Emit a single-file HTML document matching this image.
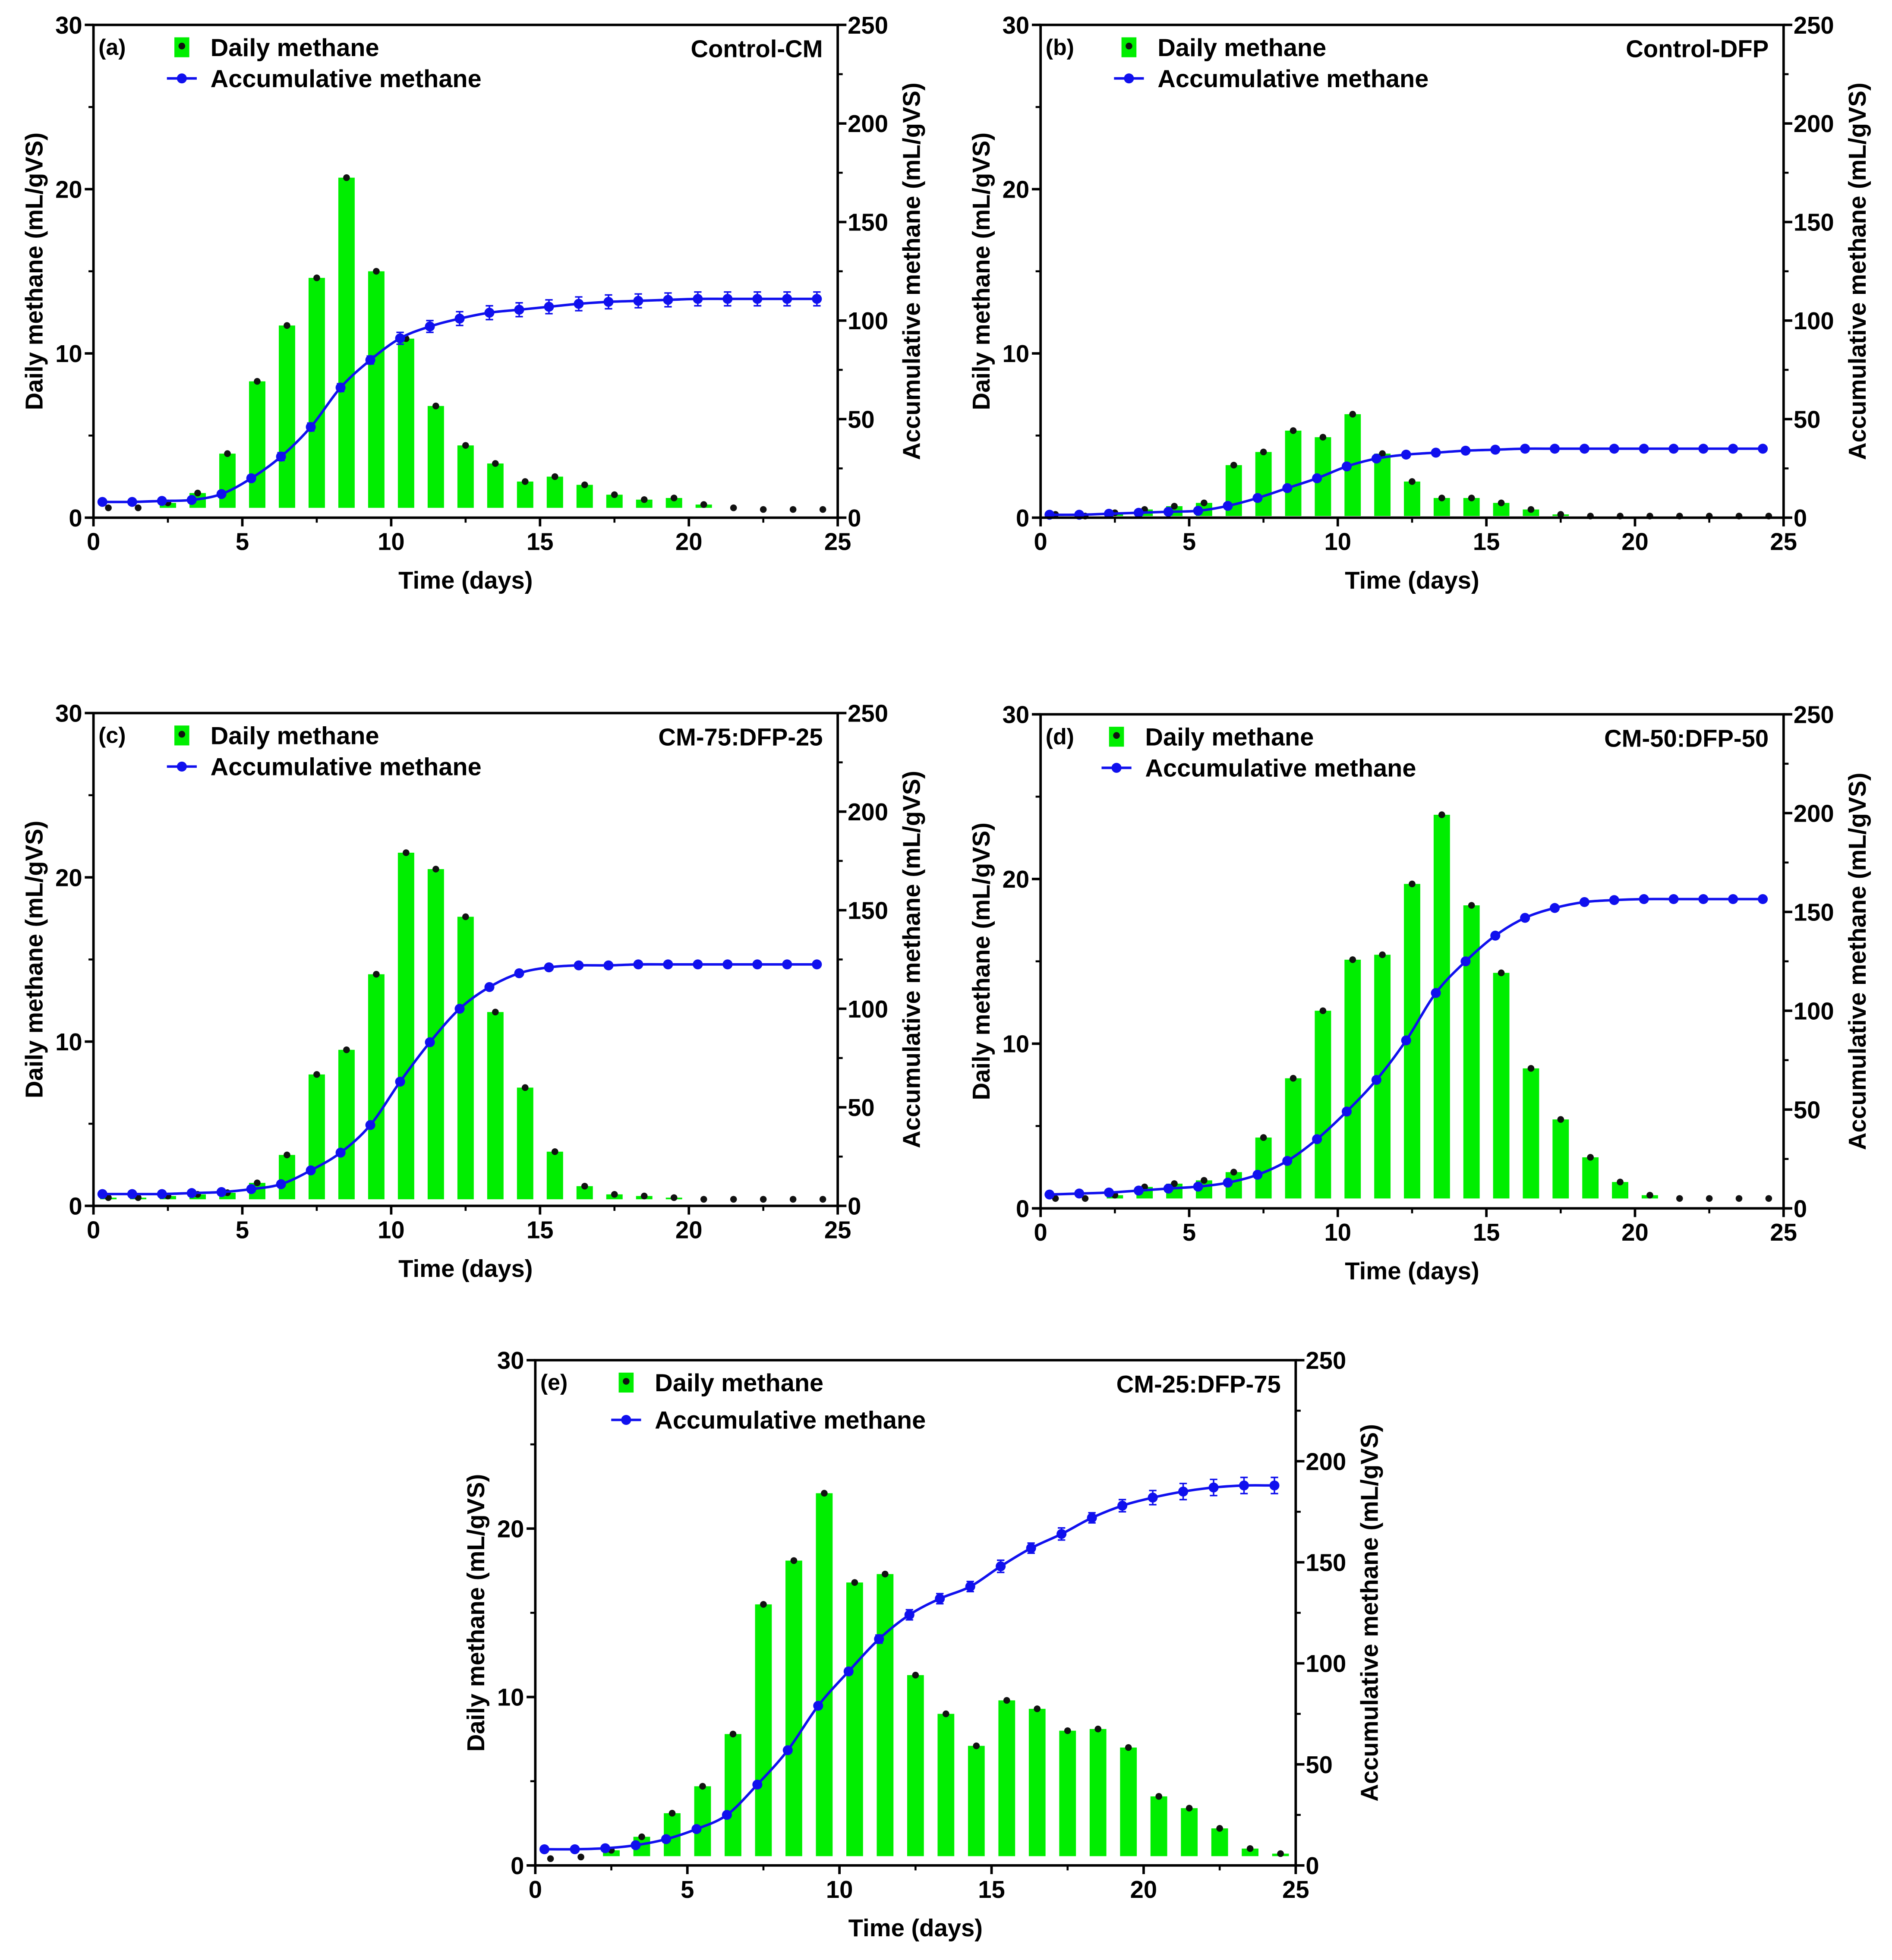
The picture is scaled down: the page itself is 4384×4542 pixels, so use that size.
<!DOCTYPE html>
<html><head><meta charset="utf-8">
<style>
html,body{margin:0;padding:0;background:#fff;}
svg{display:block;}
text{font-family:"Liberation Sans",Arial,sans-serif;font-weight:bold;fill:#000;}
</style></head>
<body>
<svg id="fig" xmlns="http://www.w3.org/2000/svg" width="4384" height="4542" viewBox="0 0 1520 1575"></svg>
<script>
const days = Array.from({length:25},(_,i)=>i);
const dailyA = [0.6,0.6,0.9,1.5,3.9,8.3,11.7,14.6,20.7,15.0,10.9,6.8,4.4,3.3,2.2,2.5,2.0,1.4,1.1,1.2,0.8,0.6,0.5,0.5,0.5];
const accumA = [8,8,8.5,9,12,20,31,46,66,80,91,97,101,104,105.5,107,108.5,109.5,110,110.5,111,111,111,111,111];
const errA = [1,1,1,1,1,1.5,2,2,2,2,3,3,3.5,3.5,3.5,3.5,3.5,3.5,3.5,3.5,3.5,3.5,3.5,3.5,3.5];
const dailyB = [0.2,0.1,0.3,0.5,0.7,0.9,3.2,4.0,5.3,4.9,6.3,3.9,2.2,1.2,1.2,0.9,0.5,0.2,0.1,0.1,0.1,0.1,0.1,0.1,0.1];
const accumB = [1.5,1.5,2,2.5,3,3.5,6,10,15,20,26,30,32,33,34,34.5,35,35,35,35,35,35,35,35,35];
const errB = [0.5,0.5,0.5,0.5,0.5,0.5,0.5,0.5,0.5,0.5,0.5,0.5,0.5,0.5,0.5,0.5,0.5,0.5,0.5,0.5,0.5,0.5,0.5,0.5,0.5];
const dailyC = [0.5,0.5,0.6,0.7,0.8,1.4,3.1,8.0,9.5,14.1,21.5,20.5,17.6,11.8,7.2,3.3,1.2,0.7,0.6,0.5,0.4,0.4,0.4,0.4,0.4];
const accumC = [6,6,6,6.5,7,8.5,11,18,27,41,63,83,100,111,118,121,122,122,122.5,122.5,122.5,122.5,122.5,122.5,122.5];
const errC = [0.5,0.5,0.5,0.5,0.5,0.5,0.5,0.5,0.5,0.5,0.5,0.5,0.5,0.5,0.5,0.5,0.5,0.5,0.5,0.5,0.5,0.5,0.5,0.5,0.5];
const dailyD = [0.6,0.6,0.8,1.3,1.5,1.7,2.2,4.3,7.9,12.0,15.1,15.4,19.7,23.9,18.4,14.3,8.5,5.4,3.1,1.6,0.8,0.6,0.6,0.6,0.6];
const accumD = [7,7.5,8,9,10,11,13,17,24,35,49,65,85,109,125,138,147,152,155,156,156.5,156.5,156.5,156.5,156.5];
const errD = [0.5,0.5,0.5,0.5,0.5,0.5,0.5,0.5,0.5,0.5,0.5,0.5,0.5,0.5,0.5,0.5,0.5,0.5,0.5,0.5,0.5,0.5,0.5,0.5,0.5];
const dailyE = [0.4,0.5,0.9,1.7,3.1,4.7,7.8,15.5,18.1,22.1,16.8,17.3,11.3,9.0,7.1,9.8,9.3,8.0,8.1,7.0,4.1,3.4,2.2,1.0,0.7];
const accumE = [8,8,8.5,10,13,18,25,40,57,79,96,112,124,132,138,148,157,164,172,178,182,185,187,188,188];
const errE = [1,1,1,1,1,1,1,1,1,1,1.5,2,2.5,2.5,2.5,3,2.5,3,2.5,3,3.5,4,4,4,4];
const xTicks = [0,5,10,15,20,25];
const yLeftTicks = [0,10,20,30];
const yRightTicks = [0,50,100,150,200,250];

const NS="http://www.w3.org/2000/svg";
const svg=document.getElementById('fig');
function el(tag,attrs,parent,txt){const e=document.createElementNS(NS,tag);for(const k in attrs)e.setAttribute(k,attrs[k]);if(txt!==undefined)e.textContent=txt;(parent||svg).appendChild(e);return e;}

function panel(cfg){
  const {L,R,T,B,daily,accum,err,base,label,title,key,legGap}=cfg;
  const g=el('g',{});
  
  
  const xs=v=>L+(v/25)*(R-L);
  const yl=v=>B-(v/30)*(B-T);
  const yr=v=>B-(v/250)*(B-T);
  const bw=0.55*(R-L)/25;
  daily.forEach((v,i)=>{
    const cx=xs(days[i]+0.5);
    if(v>base){
      const r=el('rect',{x:cx-bw/2,y:yl(v),width:bw,height:yl(base)-yl(v),fill:'#00ee00'},g);
      
      
    }
  });
  daily.forEach((v,i)=>{
    const c=el('circle',{cx:xs(days[i]+0.5),cy:yl(v),r:2.7,fill:'#111'},g);
    
    
  });
  const pts=accum.map((v,i)=>[xs(days[i]+0.3),yr(v)]);
  let d='M'+pts[0][0]+','+pts[0][1];
  for(let i=1;i<pts.length;i++){
    const p0=pts[Math.max(0,i-2)],p1=pts[i-1],p2=pts[i],p3=pts[Math.min(pts.length-1,i+1)];
    const c1=[p1[0]+(p2[0]-p0[0])/6,p1[1]+(p2[1]-p0[1])/6];
    const c2=[p2[0]-(p3[0]-p1[0])/6,p2[1]-(p3[1]-p1[1])/6];
    d+=' C'+c1[0]+','+c1[1]+' '+c2[0]+','+c2[1]+' '+p2[0]+','+p2[1];
  }
  const ln=el('path',{d:d,fill:'none',stroke:'#1010ee','stroke-width':2},g);
  
  
  accum.forEach((v,i)=>{
    const x=xs(days[i]+0.3),e=err[i];
    if(e>0.6){
      el('path',{d:`M${x},${yr(v+e)}V${yr(v-e)}M${x-3},${yr(v+e)}h6M${x-3},${yr(v-e)}h6`,stroke:'#1010ee','stroke-width':1.2,fill:'none'},g);
    }
    const c=el('circle',{cx:x,cy:yr(v),r:4,fill:'#1010ee'},g);
    
    
  });
  const fr=el('rect',{x:L,y:T,width:R-L,height:B-T,fill:'none',stroke:'#000','stroke-width':2},g);
  
  
  xTicks.forEach(t=>{
    el('line',{x1:xs(t),x2:xs(t),y1:B,y2:B+7,stroke:'#000','stroke-width':2},g);
    const tx=el('text',{x:xs(t),y:B+26,'text-anchor':'middle','font-size':19.5},g,t);
    
    
  });
  for(let t=2.5;t<25;t+=5) el('line',{x1:xs(t),x2:xs(t),y1:B,y2:B+4,stroke:'#000','stroke-width':1.6},g);
  yLeftTicks.forEach(t=>{
    el('line',{x1:L-7,x2:L,y1:yl(t),y2:yl(t),stroke:'#000','stroke-width':2},g);
    const tx=el('text',{x:L-9,y:yl(t)+7,'text-anchor':'end','font-size':19.5},g,t);
    
    
  });
  for(let t=5;t<30;t+=10) el('line',{x1:L-4,x2:L,y1:yl(t),y2:yl(t),stroke:'#000','stroke-width':1.6},g);
  yRightTicks.forEach(t=>{
    el('line',{x1:R,x2:R+7,y1:yr(t),y2:yr(t),stroke:'#000','stroke-width':2},g);
    const tx=el('text',{x:R+8,y:yr(t)+7,'text-anchor':'start','font-size':19.5},g,t);
    
    
  });
  for(let t=25;t<250;t+=50) el('line',{x1:R,x2:R+4,y1:yr(t),y2:yr(t),stroke:'#000','stroke-width':1.6},g);
  const xt=el('text',{x:(L+R)/2,y:B+57,'text-anchor':'middle','font-size':19.5},g,'Time (days)');
  
  
  const cy=(T+B)/2;
  const ylt=el('text',{x:L-41,y:cy,'text-anchor':'middle','font-size':19.5,transform:`rotate(-90 ${L-41} ${cy})`},g,'Daily methane (mL/gVS)');
  
  
  const yrt=el('text',{x:R+66,y:cy,'text-anchor':'middle','font-size':19.5,transform:`rotate(-90 ${R+66} ${cy})`},g,'Accumulative methane (mL/gVS)');
  
  
  const pl=el('text',{x:L+4,y:T+24,'font-size':18},g,label);
  
  
  const pt=el('text',{x:R-12,y:T+26,'text-anchor':'end','font-size':19.5},g,title);
  
  
  const lx=L+cfg.legX;
  const r1=T+18,r2=T+18+legGap;
  const lg=el('g',{},g);
  
  
  el('rect',{x:lx,y:r1-8,width:12,height:16,fill:'#00ee00'},lg);
  el('circle',{cx:lx+6,cy:r1-1,r:2.7,fill:'#111'},lg);
  el('text',{x:lx+29,y:r1+7,'font-size':20},lg,'Daily methane');
  el('line',{x1:lx-6,x2:lx+18,y1:r2,y2:r2,stroke:'#1010ee','stroke-width':2},lg);
  el('circle',{cx:lx+6,cy:r2,r:4,fill:'#1010ee'},lg);
  el('text',{x:lx+29,y:r2+7,'font-size':20},lg,'Accumulative methane');
}

panel({key:'a',L:75,R:673,T:20,B:416,daily:dailyA,accum:accumA,err:errA,base:0.6,label:'(a)',title:'Control-CM',legX:65,legGap:25});
panel({key:'b',L:836,R:1433,T:20,B:416,daily:dailyB,accum:accumB,err:errB,base:0.1,label:'(b)',title:'Control-DFP',legX:65,legGap:25});
panel({key:'c',L:75,R:673,T:573,B:969,daily:dailyC,accum:accumC,err:errC,base:0.4,label:'(c)',title:'CM-75:DFP-25',legX:65,legGap:25});
panel({key:'d',L:836,R:1433,T:574,B:971,daily:dailyD,accum:accumD,err:errD,base:0.6,label:'(d)',title:'CM-50:DFP-50',legX:55,legGap:25});
panel({key:'e',L:430,R:1041,T:1093,B:1499,daily:dailyE,accum:accumE,err:errE,base:0.55,label:'(e)',title:'CM-25:DFP-75',legX:67,legGap:30});
</script>
</body></html>
